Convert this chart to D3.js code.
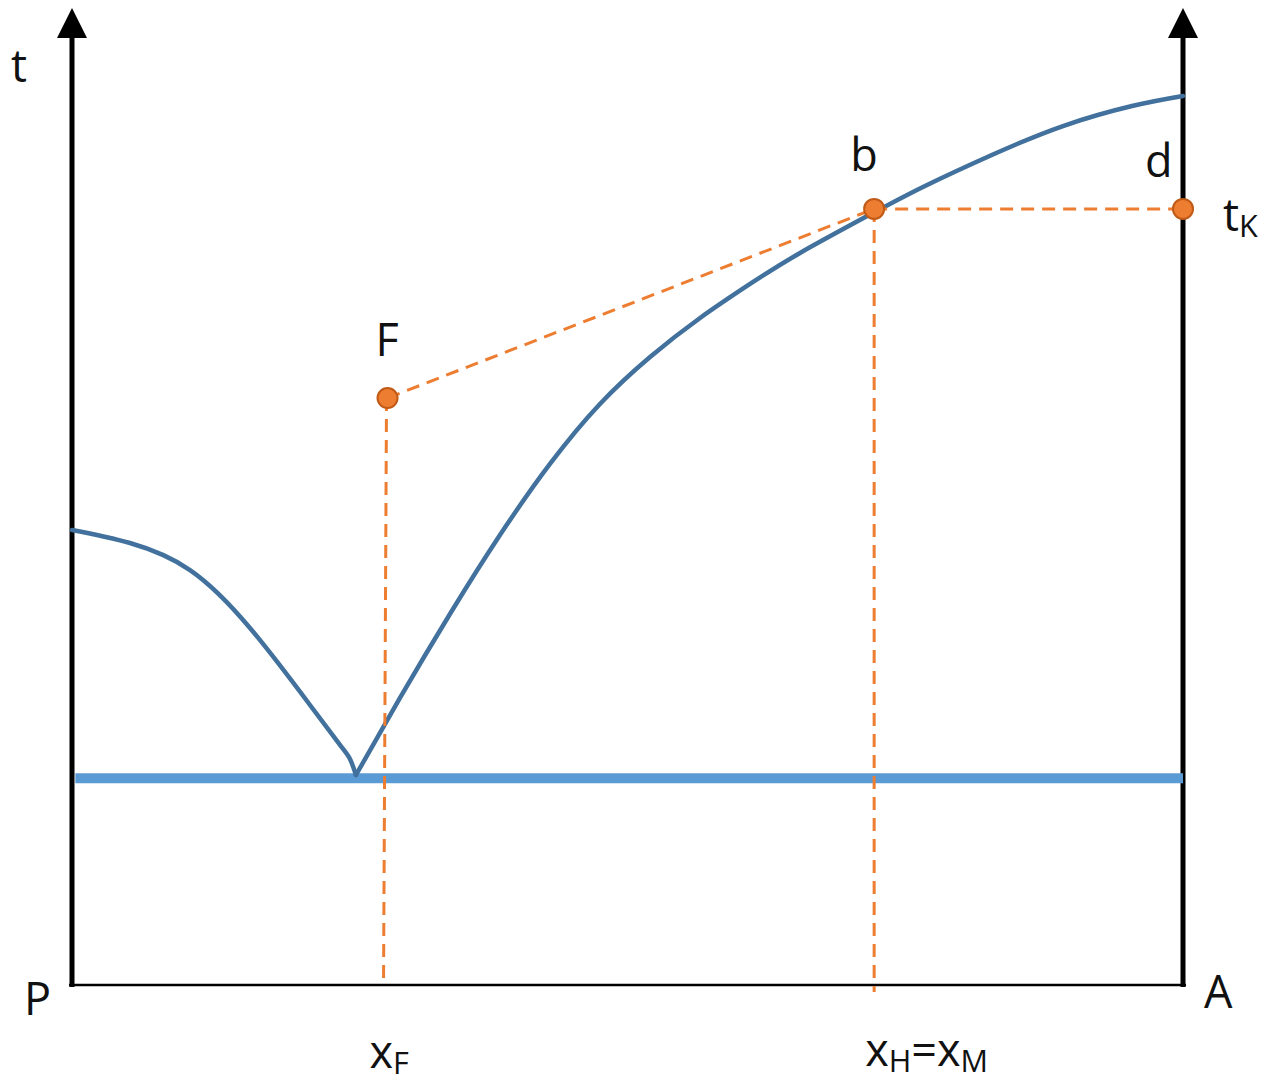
<!DOCTYPE html>
<html>
<head>
<meta charset="utf-8">
<script src="https://cdn.jsdelivr.net/npm/d3@7"></script>
<style>
  html, body { margin: 0; padding: 0; background: #ffffff; }
  svg text { font-family: "Open Sans", "DejaVu Sans", sans-serif; fill: #111111; }
</style>
</head>
<body>
<div id="chart"></div>
<script>

// Liquidus branch falling from pure P to the eutectic point (composition %, t):
const liquidusLeft = [
  [0, 46.67], [5.22, 45.33], [10.62, 42.56], [16.02, 36.62],
  [21.42, 28.72], [24.12, 24.62], [25.02, 23.18], [25.56, 21.54]
];

// Liquidus branch rising from the eutectic point to pure A:
const liquidusRight = [
  [25.56, 21.54], [29.52, 29.44], [34.02, 38.05], [38.52, 46.15], [43.02, 53.44],
  [47.52, 59.59], [52.03, 64.41], [56.53, 68.41], [61.03, 71.90], [65.53, 75.08],
  [72.10, 79.18], [76.78, 81.95], [82.99, 85.23], [89.20, 88.10], [95.41, 90.15],
  [100, 91.18]
];

// Eutectic (solidus) temperature and its extent:
const eutecticT = 21.2;
const eutecticX = [0.3, 100];

// Marked points: feed F, point b on the liquidus, point d on the A axis
const pointNames = ["F", "b", "d"];
const pointX = [28.4, 72.2, 100];
const pointT = [60.2, 79.6, 79.6];

// Axis labels
const axisLabels = { y: "t", left: "P", right: "A" };


const W = 1270, H = 1082;

const x = d3.scaleLinear().domain([0, 100]).range([72, 1183]);
const y = d3.scaleLinear().domain([0, 100]).range([985, 10]);

const svg = d3.select("#chart").append("svg")
    .attr("width", W)
    .attr("height", H);

const BLACK = "#000000";
const CURVE = "#41719c";
const EUTECTIC = "#5b9bd5";
const ORANGE = "#ed7d31";


// Axes: bottom line and two vertical arrows at P and A
svg.append("line")
    .attr("x1", x(0) - 3).attr("x2", x(100) + 3)
    .attr("y1", y(0)).attr("y2", y(0))
    .attr("stroke", BLACK).attr("stroke-width", 2.5);

[0, 100].forEach(v =>
{
  svg.append("line")
      .attr("x1", x(v)).attr("x2", x(v))
      .attr("y1", y(0) + 2).attr("y2", 36)
      .attr("stroke", BLACK).attr("stroke-width", 5);
  svg.append("path")
      .attr("d", "M" + (x(v) - 15) + ",38 L" + x(v) + ",8 L" + (x(v) + 15) + ",38 Z")
      .attr("fill", BLACK);
});


// Eutectic line
svg.append("line")
    .attr("x1", x(eutecticX[0])).attr("x2", x(eutecticX[1]))
    .attr("y1", y(eutecticT)).attr("y2", y(eutecticT))
    .attr("stroke", EUTECTIC).attr("stroke-width", 10);


// Liquidus curves
let line = d3.line()
    .x(d => x(d[0]))
    .y(d => y(d[1]))
    .curve(d3.curveNatural);

[liquidusLeft, liquidusRight].forEach(data =>
{
  svg.append("path")
      .datum(data)
      .attr("d", line)
      .attr("fill", "none")
      .attr("stroke", CURVE)
      .attr("stroke-width", 4.5)
      .attr("stroke-linecap", "round");
});


// Dashed construction lines
let dashed = (x1, y1, x2, y2) =>
{
  svg.append("line")
      .attr("x1", x1).attr("y1", y1)
      .attr("x2", x2).attr("y2", y2)
      .attr("stroke", ORANGE)
      .attr("stroke-width", 3)
      .attr("stroke-dasharray", "13,8");
};

// F -> b, b -> d
dashed(x(pointX[0]), y(pointT[0]), x(pointX[1]), y(pointT[1]));
dashed(x(pointX[1]), y(pointT[1]), x(pointX[2]), y(pointT[2]));
// verticals down to the composition axis
dashed(x(pointX[0]) - 1, y(pointT[0]), x(pointX[0]) - 4, y(0));
dashed(x(pointX[1]), y(pointT[1]), x(pointX[1]), y(0) + 7);


// Points
svg.selectAll("circle.pt")
    .data(pointNames)
    .enter()
    .append("circle")
        .attr("class", "pt")
        .attr("cx", (d, i) => x(pointX[i]))
        .attr("cy", (d, i) => y(pointT[i]))
        .attr("r", 10)
        .attr("fill", ORANGE)
        .attr("stroke", "#c05a17")
        .attr("stroke-width", 2);


// Point labels
const FS = 45;
let labelOffset = { F: [-12, -42], b: [-24, -38], d: [-38, -32] };

svg.selectAll("text.pt")
    .data(pointNames)
    .enter()
    .append("text")
        .attr("class", "pt")
        .attr("x", (d, i) => x(pointX[i]) + labelOffset[d][0])
        .attr("y", (d, i) => y(pointT[i]) + labelOffset[d][1])
        .attr("font-size", FS)
        .text(d => d);


// Text with a subscript part
let subText = (px, py, parts) =>
{
  let t = svg.append("text")
      .attr("x", px).attr("y", py)
      .attr("font-size", FS);
  parts.forEach(p =>
  {
    t.append("tspan")
        .attr("font-size", p.sub ? FS * 0.68 : FS)
        .attr("dy", p.sub ? 6 : (p.back ? -6 : 0))
        .text(p.s);
  });
};

// t_K next to d
subText(x(100) + 40, y(pointT[2]) + 22, [{ s: "t" }, { s: "K", sub: true }]);

// compositions below the axis
subText(x(pointX[0]) - 18, 1068, [{ s: "x" }, { s: "F", sub: true }]);
subText(x(pointX[1]) - 9, 1066,
    [{ s: "x" }, { s: "H", sub: true }, { s: "=", back: true }, { s: "x" }, { s: "M", sub: true }]);


// Axis labels
svg.append("text").attr("x", 11).attr("y", 82).attr("font-size", FS).text(axisLabels.y);
svg.append("text").attr("x", 24).attr("y", 1015).attr("font-size", FS).text(axisLabels.left);
svg.append("text").attr("x", 1204).attr("y", 1008).attr("font-size", FS).text(axisLabels.right);

</script>
</body>
</html>
